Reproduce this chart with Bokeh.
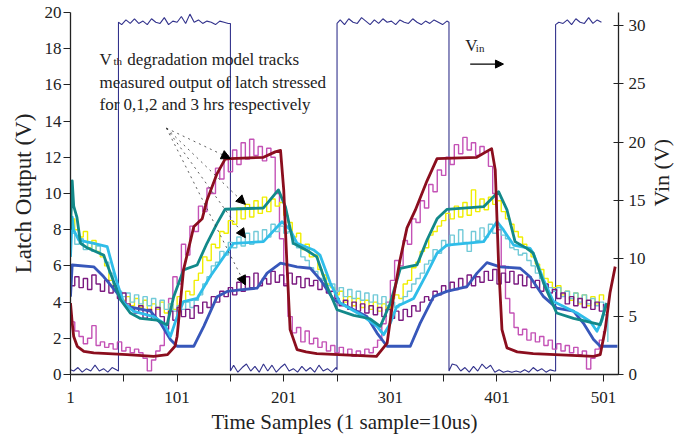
import math
from bokeh.plotting import figure
from bokeh.layouts import row
from bokeh.models import Range1d, LinearAxis, FixedTicker, Label, Arrow, NormalHead
from bokeh.embed import file_html
from bokeh.resources import INLINE

# ---------------- data ----------------
x_ticks = [1, 101, 201, 301, 401, 501]
x_minor = [51, 151, 251, 351, 451]
y_ticks = [0, 2, 4, 6, 8, 10, 12, 14, 16, 18, 20]
vin_ticks = [0, 5, 10, 15, 20, 25, 30]

# Vin square wave (right axis, V)
vin_s1 = [1, 4, 8, 12, 16, 20, 24, 28, 32, 36, 40, 44, 46]
vin_v1 = [0.4, 0.3, 0.6, 0.2, 0.5, 0.3, 0.8, 0.3, 0.5, 0.2, 0.6, 0.4, 0.3]
vin_s2 = [46, 49, 53, 57, 61, 65, 69, 73, 77, 81, 85, 89, 93, 97, 101, 105, 109, 113, 117, 121, 125, 129, 133, 137, 141, 145, 149, 151]
vin_v2 = [30.3, 30.1, 30.5, 30.2, 30.6, 30.2, 30.4, 30.1, 30.6, 30.3, 30.2, 30.7, 30.1, 30.4, 30.3, 30.8, 30.2, 31.0, 30.3, 30.5, 30.2, 30.4, 30.3, 30.1, 30.4, 30.3, 30.2, 30.2]
vin_s3 = [151, 154, 158, 162, 166, 170, 174, 178, 182, 186, 190, 194, 198, 202, 206, 210, 214, 218, 222, 226, 230, 234, 238, 242, 246, 250, 251]
vin_v3 = [0.3, 0.8, 0.2, 0.6, 0.9, 0.3, 0.7, 0.2, 0.9, 0.3, 0.8, 0.2, 0.6, 0.9, 0.3, 0.5, 0.2, 0.7, 0.3, 0.6, 0.2, 0.8, 0.3, 0.5, 0.2, 0.6, 0.4]
vin_s4 = [251, 254, 258, 262, 266, 270, 274, 278, 282, 286, 290, 294, 298, 302, 306, 310, 314, 318, 322, 326, 330, 334, 338, 342, 346, 350, 354, 356]
vin_v4 = [30.2, 30.5, 30.1, 30.6, 30.3, 30.2, 30.7, 30.4, 30.1, 30.5, 30.2, 30.6, 30.3, 30.4, 30.1, 30.5, 30.3, 30.2, 30.6, 30.3, 30.1, 30.4, 30.2, 30.5, 30.3, 30.1, 30.4, 30.3]
vin_s5 = [356, 359, 363, 367, 371, 375, 379, 383, 387, 391, 395, 399, 403, 407, 411, 415, 419, 423, 427, 431, 435, 439, 443, 447, 451, 455, 456]
vin_v5 = [0.3, 0.9, 0.8, 0.3, 0.6, 0.2, 0.7, 0.3, 0.9, 0.5, 0.8, 0.2, 0.4, 0.2, 0.3, 0.2, 0.3, 0.2, 0.4, 0.2, 0.6, 0.3, 0.5, 0.2, 0.4, 0.3, 0.3]
vin_s6 = [456, 459, 463, 467, 471, 475, 479, 483, 487, 491, 495, 499]
vin_v6 = [30.1, 30.3, 30.2, 30.5, 30.1, 30.6, 30.3, 30.2, 30.7, 30.2, 30.5, 30.3]

# measured latch outputs, one value every 4 samples starting at sample 1
meas_0hr = [2.9, 2.4, 2.1, 1.7, 2.0, 2.7, 1.6, 1.8, 1.5, 1.7,
            1.4, 1.8, 1.3, 1.5, 1.2, 1.4, 1.2, 0.9, 0.2, 0.8,
            1.3, 1.6, 2.8, 4.2, 5.4, 5.0, 7.2, 6.6, 8.2, 7.9,
            9.3, 9.0, 10.3, 10.0, 11.4, 10.8, 12.1, 11.2, 12.4, 11.6,
            12.8, 11.9, 13.0, 12.1, 12.6, 11.8, 12.5, 12.0, 10.0, 7.5,
            5.0, 3.2, 2.3, 2.6, 1.8, 2.4, 1.7, 2.0, 1.5, 1.8,
            1.3, 1.6, 1.2, 1.5, 1.1, 1.4, 1.0, 1.3, 1.1, 1.4,
            1.2, 1.5, 1.9, 2.8, 4.0, 5.2, 6.3, 6.0, 7.4, 7.2,
            8.6, 8.4, 9.6, 9.2, 10.5, 10.1, 11.3, 11.0, 12.0, 11.6,
            12.7, 12.2, 13.1, 12.4, 12.8, 12.1, 12.6, 12.3, 11.5, 10.0,
            8.0, 6.0, 4.2, 3.4, 2.6, 2.2, 2.5, 1.9, 2.3, 1.8,
            2.1, 1.6, 1.9, 1.4, 1.7, 1.3, 1.6, 1.2, 1.5, 1.1,
            1.3, 0.3, 0.9, 1.4, 1.9, 2.4]
meas_1hr = [8.6, 8.0, 7.6, 7.9, 7.0, 7.4, 6.8, 6.5, 6.0, 5.2,
            4.8, 4.5, 4.1, 4.3, 3.8, 4.2, 3.7, 4.1, 3.5, 3.9,
            3.6, 4.0, 3.4, 3.9, 3.6, 4.3, 4.0, 4.6, 4.4, 5.2,
            5.6, 6.5, 6.3, 7.2, 7.0, 7.9, 7.8, 8.5, 8.3, 9.2,
            8.6, 9.4, 8.7, 9.6, 8.9, 9.8, 9.0, 9.7, 9.3, 9.5,
            8.8, 8.4, 7.6, 7.8, 6.9, 7.2, 6.5, 6.6, 5.8, 5.5,
            5.0, 4.8, 4.4, 4.6, 4.0, 4.3, 3.8, 4.2, 3.7, 4.1,
            3.6, 4.0, 3.5, 3.9, 3.6, 4.2, 4.4, 4.2, 5.0, 5.2,
            5.9, 6.2, 6.8, 7.0, 7.7, 7.9, 8.2, 8.5, 8.9, 8.6,
            9.3, 8.7, 9.5, 8.8, 10.2, 9.0, 9.7, 9.1, 9.8, 9.4,
            9.6, 9.0, 8.6, 8.3, 7.9, 7.6, 7.2, 6.9, 6.5, 6.1,
            5.8, 5.3, 5.1, 4.8, 4.9, 4.4, 4.6, 4.1, 4.5, 3.9,
            4.4, 3.8, 4.3, 3.9, 4.4, 4.1]
meas_2hr = [7.8, 7.2, 7.5, 6.9, 7.3, 6.8, 7.1, 6.6, 6.2, 5.6,
            5.0, 4.6, 4.3, 4.5, 4.0, 4.4, 3.9, 4.3, 3.8, 4.2,
            3.7, 4.1, 3.6, 3.9, 3.5, 3.8, 3.6, 4.0, 3.7, 4.1,
            4.4, 5.0, 5.4, 6.0, 6.2, 6.8, 6.6, 7.3, 7.0, 7.6,
            7.1, 7.8, 7.2, 7.9, 7.3, 8.0, 7.6, 8.3, 7.9, 8.2,
            7.8, 7.9, 7.2, 7.0, 6.5, 6.3, 5.9, 5.7, 5.3, 5.2,
            4.9, 5.0, 4.6, 4.8, 4.3, 4.7, 4.2, 4.6, 4.1, 4.5,
            4.0, 4.4, 3.9, 4.3, 3.8, 4.0, 3.7, 3.9, 4.3, 4.6,
            5.0, 5.3, 5.6, 6.1, 6.3, 6.9, 6.7, 7.4, 7.1, 7.7,
            7.2, 8.0, 7.3, 6.8, 7.9, 7.4, 8.1, 7.6, 8.3, 7.8,
            8.1, 7.7, 7.5, 7.0, 6.9, 6.6, 6.7, 6.3, 6.0, 5.6,
            5.3, 5.0, 4.8, 4.6, 4.8, 4.3, 4.6, 4.2, 4.5, 4.0,
            4.4, 3.9, 4.2, 3.8, 4.0, 3.3, 1.8]
meas_3hr = [4.9, 5.4, 4.8, 5.3, 4.7, 5.5, 5.0, 4.6, 5.2, 4.5,
            4.9, 4.2, 4.5, 3.9, 3.6, 3.4, 3.8, 3.1, 3.6, 3.0,
            3.7, 3.2, 2.5, 3.5, 3.0, 3.7, 3.2, 3.6, 3.1, 3.8,
            3.4, 4.0, 3.7, 4.3, 4.0, 4.6, 4.3, 4.8, 4.4, 5.1,
            4.6, 5.4, 4.8, 5.6, 4.9, 5.3, 5.0, 5.7, 5.1, 5.5,
            4.9, 5.6, 5.0, 5.4, 4.8, 5.3, 4.9, 5.2, 4.7, 5.0,
            4.5, 4.6, 4.2, 3.8, 4.1, 3.6, 4.0, 3.5, 3.9, 3.4,
            3.8, 3.3, 3.7, 3.2, 3.6, 3.1, 3.5, 3.0, 3.6, 3.2,
            3.8, 3.5, 4.0, 4.3, 4.1, 4.6, 4.4, 4.9, 4.6, 5.1,
            4.7, 5.3, 4.8, 5.5, 4.9, 5.4, 5.1, 5.7, 5.2, 5.8,
            5.0, 5.6, 5.1, 5.7, 5.0, 5.5, 4.9, 5.4, 4.8, 5.2,
            4.6, 5.0, 4.5, 4.7, 4.2, 4.5, 3.9, 4.3, 3.8, 4.2,
            3.7, 4.1, 3.6, 4.0, 3.5, 3.9]

# Vth-degradation model curves (breakpoints: sample, volts)
model0_s = [1, 2.6, 4, 7.3, 13.5, 22.8, 54, 79, 92, 99, 101, 107, 116.6, 124.5, 129, 138.5, 146, 151, 182, 193, 198, 201, 204, 207, 213.5, 222, 232, 288, 298, 304, 310, 316.6, 324.4, 335.4, 344.8, 382, 396, 399.4, 402.5, 405.7, 410.4, 420, 435, 491.6, 497.9, 502.5, 507, 511.9]
model0_v = [3.95, 2.85, 2.1, 1.56, 1.28, 1.19, 1.1, 1.0, 1.1, 1.56, 2.1, 5.78, 8.16, 8.6, 9.63, 11.1, 11.9, 11.93, 12.0, 12.3, 12.38, 10.2, 6.1, 2.48, 1.38, 1.25, 1.15, 1.0, 1.74, 4.3, 6.3, 8.1, 9.08, 10.7, 11.93, 12.0, 12.48, 11.3, 6.15, 2.48, 1.47, 1.25, 1.15, 1.0, 1.1, 2.48, 4.5, 5.96]
model1_s = [1, 2.6, 4, 7, 10.4, 16.6, 32, 38.5, 47.9, 57, 66.6, 82, 91.6, 97.8, 107, 119.8, 129, 138.5, 146, 182, 196, 202.6, 210, 222.9, 232, 241.7, 251, 266.6, 282, 291.6, 301, 310.4, 326, 335.4, 344.8, 354, 388.5, 402.5, 410.4, 418, 429, 435, 444.7, 457, 472.8, 485, 497.8, 504]
model1_v = [8.0, 10.7, 9.3, 8.7, 7.25, 7.0, 6.6, 5.6, 4.13, 3.4, 3.1, 3.0, 2.75, 4.3, 5.78, 6.05, 7.25, 8.35, 9.13, 9.2, 10.2, 9.27, 7.25, 6.85, 6.5, 4.86, 3.58, 3.27, 3.08, 2.66, 3.95, 5.87, 6.05, 7.43, 8.6, 9.12, 9.27, 10.1, 9.1, 7.34, 6.97, 6.7, 5.05, 3.4, 3.1, 2.93, 2.75, 3.95]
model2_s = [1, 2.6, 4, 8.8, 22.8, 35.4, 44.8, 51, 60.4, 79, 88.5, 94.7, 101, 107, 119.8, 132, 144.7, 154, 182, 199.4, 207, 213.5, 229, 235, 244.7, 254, 276, 288.5, 294.7, 301, 307, 322.8, 335.4, 344.8, 354, 388.5, 401, 407, 416.6, 432, 435, 444.7, 454, 476, 488.5, 494.8, 499.5, 503]
model2_v = [6.5, 8.7, 7.98, 7.43, 7.25, 7.06, 5.05, 3.95, 3.49, 3.2, 2.84, 2.1, 3.2, 4.03, 4.2, 5.41, 6.5, 7.25, 7.34, 8.44, 8.0, 7.25, 6.88, 6.6, 5.05, 3.95, 3.2, 2.66, 2.2, 2.84, 3.76, 4.2, 5.6, 6.7, 7.15, 7.34, 8.44, 8.0, 7.15, 6.97, 6.7, 5.23, 4.03, 3.4, 2.93, 2.39, 3.0, 3.9]
model3_s = [1, 2.6, 22.8, 32, 44.8, 54, 76, 85.4, 94.7, 101, 116.6, 126, 138.5, 147.9, 160, 176, 185.4, 198, 213.5, 226, 235.4, 247.8, 266.6, 279, 288.5, 297.9, 319.7, 329, 341.6, 354, 372.9, 382.3, 391.6, 404, 422.8, 432, 444.7, 457, 472.8, 482, 491.6, 497.9, 514]
model3_v = [4.3, 6.05, 5.95, 5.41, 4.5, 3.76, 3.5, 2.84, 1.93, 1.56, 1.56, 2.66, 4.3, 4.59, 4.68, 4.77, 5.6, 6.15, 5.95, 5.87, 5.23, 4.13, 3.58, 3.2, 2.29, 1.56, 1.56, 2.84, 4.3, 4.59, 4.86, 5.6, 6.18, 5.95, 5.87, 5.4, 4.3, 3.67, 3.5, 2.84, 1.93, 1.56, 1.56]

# annotation arrows (sample, volts)
arrow_from = (91.0, 13.61)
arrow_to_s = [151, 165, 165, 165]
arrow_to_v = [11.93, 9.4, 7.56, 4.95]

# ---------------- figure ----------------
FONT = "Liberation Serif"
C_VIN = "#32328c"
C_M0, C_D0 = "#c452b6", "#8b0e1e"
C_M1, C_D1 = "#f0ee00", "#12898a"
C_M2, C_D2 = "#72cad8", "#2fbde9"
C_M3, C_D3 = "#7b1a80", "#3757ba"

p = figure(width=648, height=436, x_range=Range1d(1, 515), y_range=Range1d(0, 20),
           output_backend="svg", toolbar_location=None,
           min_border_left=70, min_border_right=30, min_border_top=12, min_border_bottom=61)
p.extra_y_ranges = {"vin": Range1d(0, 31.14)}
p.xgrid.visible = False
p.ygrid.visible = False
p.outline_line_color = None
p.background_fill_color = "white"
p.border_fill_color = "white"

vin_s = vin_s1 + vin_s2 + vin_s3 + vin_s4 + vin_s5 + vin_s6
vin_v = vin_v1 + vin_v2 + vin_v3 + vin_v4 + vin_v5 + vin_v6
p.line(vin_s, vin_v, y_range_name="vin", line_color=C_VIN, line_width=1.1)


def samples(vals):
    return [1 + 4 * i for i in range(len(vals))]


for vals, col in [(meas_0hr, C_M0), (meas_1hr, C_M1), (meas_2hr, C_M2), (meas_3hr, C_M3)]:
    p.step(samples(vals), vals, mode="after", line_color=col, line_width=1.4)

for xs, ys, col in [(model3_s, model3_v, C_D3), (model2_s, model2_v, C_D2),
                    (model1_s, model1_v, C_D1), (model0_s, model0_v, C_D0)]:
    p.line(xs, ys, line_color=col, line_width=2.8, line_join="round")

# axes
xa = p.xaxis[0]
xa.ticker = FixedTicker(ticks=x_ticks, minor_ticks=x_minor)
xa.axis_label = "Time Samples (1 sample=10us)"
ya = p.yaxis[0]
ya.ticker = FixedTicker(ticks=y_ticks)
ya.axis_label = "Latch Output (V)"
ra = LinearAxis(y_range_name="vin", ticker=FixedTicker(ticks=vin_ticks))
p.add_layout(ra, "right")

for ax in (xa, ya, ra):
    ax.axis_line_color = "#222222"
    ax.axis_line_width = 1.3
    ax.major_tick_line_color = "#222222"
    ax.minor_tick_line_color = "#222222"
    ax.major_label_text_font = FONT
    ax.major_label_text_font_size = "17px"
    ax.major_label_text_color = "#222222"
    ax.axis_label_text_font = FONT
    ax.axis_label_text_font_style = "normal"
    ax.axis_label_text_color = "#222222"

xa.major_tick_in, xa.major_tick_out = 0, 7
xa.minor_tick_in, xa.minor_tick_out = 0, 7
xa.major_label_standoff = 10
xa.axis_label_standoff = 4
xa.axis_label_text_font_size = "21px"

ya.major_tick_in, ya.major_tick_out = 0, 7
ya.minor_tick_in, ya.minor_tick_out = 0, 0
ya.major_label_standoff = 2
ya.axis_label_standoff = 6
ya.axis_label_text_font_size = "23px"

ra.major_tick_in, ra.major_tick_out = 5, 5
ra.minor_tick_in, ra.minor_tick_out = 0, 0
ra.major_label_standoff = 5

# annotation text
def lab(x, y, t, size):
    p.add_layout(Label(x=x, y=y, text=t, text_font=FONT, text_font_size=size,
                       text_baseline="alphabetic", text_color="#222222"))

lab(28.2, 17.43, "V", "17px")
lab(41.3, 17.30, "th", "11px")
lab(54.2, 17.43, "degradation model tracks", "17px")
lab(28.2, 16.14, "measured output of latch stressed", "17px")
lab(28.2, 14.91, "for 0,1,2 and 3 hrs respectively", "17px")
lab(371.3, 18.16, "V", "17px")
lab(381.2, 18.02, "in", "11px")

for xe, ye in zip(arrow_to_s, arrow_to_v):
    p.add_layout(Arrow(end=NormalHead(size=9, fill_color="black", line_color="black", line_width=1),
                       x_start=arrow_from[0], y_start=arrow_from[1], x_end=xe, y_end=ye,
                       line_color="#333333", line_width=0.8, line_dash="dotted"))

p.add_layout(Arrow(end=NormalHead(size=8, fill_color="black", line_color="black", line_width=1),
                   x_start=375.9, y_start=17.15, x_end=407.1, y_end=17.15,
                   line_color="black", line_width=1.3))

# narrow strip on the right carrying the right-axis title, reading bottom-to-top
q = figure(width=33, height=436, x_range=Range1d(0, 33), y_range=Range1d(0, 436),
           output_backend="svg", toolbar_location=None,
           x_axis_location=None, y_axis_location=None,
           min_border_left=0, min_border_right=0, min_border_top=0, min_border_bottom=0)
q.grid.visible = False
q.outline_line_color = None
q.background_fill_color = "white"
q.border_fill_color = "white"
q.add_layout(Label(x=13, y=243, text="Vin (V)", angle=math.pi / 2,
                   text_font=FONT, text_font_size="22px", text_color="#222222",
                   text_align="center", text_baseline="middle"))

layout = row(p, q)
open("out.html", "w").write(file_html(layout, INLINE))
